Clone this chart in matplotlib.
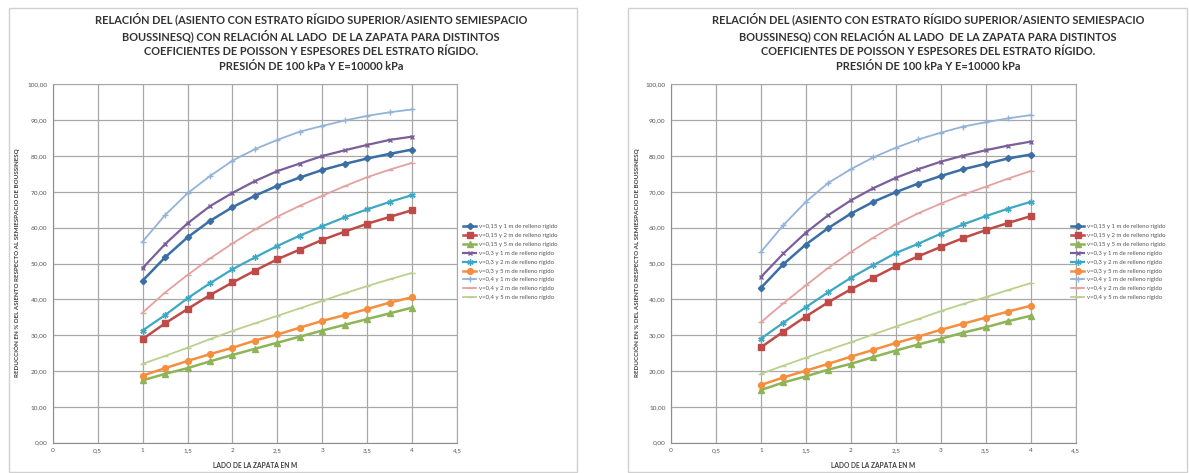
import matplotlib
matplotlib.use("Agg")
from matplotlib import pyplot as plt
from matplotlib.patches import Rectangle

plt.rcParams['font.family'] = ['Lato', 'DejaVu Sans']

# lado de la zapata (m)
x_lado = [1, 1.25, 1.5, 1.75, 2, 2.25, 2.5, 2.75, 3, 3.25, 3.5, 3.75, 4]

# grafico izquierdo
izq_015_1 = [45.2, 51.7, 57.3, 61.9, 65.7, 68.9, 71.7, 74.0, 76.1, 77.8, 79.3, 80.6, 81.8]
izq_015_2 = [28.9, 33.3, 37.3, 41.2, 44.7, 48.0, 51.2, 53.9, 56.6, 58.9, 61.1, 63.0, 64.9]
izq_015_5 = [17.4, 19.2, 20.8, 22.7, 24.5, 26.2, 27.9, 29.6, 31.3, 32.9, 34.5, 36.1, 37.7]
izq_03_1 = [48.7, 55.4, 61.2, 66.0, 69.7, 73.0, 75.8, 77.9, 80.0, 81.6, 83.1, 84.5, 85.4]
izq_03_2 = [31.3, 35.6, 40.3, 44.5, 48.4, 51.7, 54.9, 57.8, 60.4, 62.9, 65.1, 67.2, 69.1]
izq_03_5 = [18.7, 20.8, 22.8, 24.7, 26.5, 28.5, 30.2, 32.1, 34.0, 35.6, 37.3, 39.1, 40.6]
izq_04_1 = [56.1, 63.5, 69.6, 74.4, 78.7, 81.9, 84.5, 86.8, 88.4, 89.9, 91.2, 92.2, 93.0]
izq_04_2 = [36.3, 41.9, 46.8, 51.4, 55.6, 59.5, 63.1, 66.1, 68.9, 71.6, 74.1, 76.2, 78.1]
izq_04_5 = [22.0, 24.2, 26.5, 28.9, 31.2, 33.3, 35.4, 37.5, 39.6, 41.7, 43.7, 45.6, 47.4]

# grafico derecho
der_015_1 = [43.2, 49.8, 55.3, 59.9, 63.9, 67.2, 69.9, 72.3, 74.4, 76.3, 77.8, 79.3, 80.4]
der_015_2 = [26.6, 31.0, 35.2, 39.2, 42.8, 46.0, 49.2, 52.0, 54.6, 57.1, 59.3, 61.3, 63.2]
der_015_5 = [14.7, 16.8, 18.5, 20.4, 22.0, 23.9, 25.7, 27.4, 29.0, 30.7, 32.2, 33.9, 35.4]
der_03_1 = [46.2, 52.8, 58.6, 63.5, 67.6, 71.0, 73.9, 76.3, 78.4, 80.1, 81.6, 82.9, 84.0]
der_03_2 = [29.0, 33.5, 37.8, 42.0, 46.0, 49.5, 52.9, 55.5, 58.3, 60.9, 63.2, 65.3, 67.2]
der_03_5 = [16.1, 18.2, 20.1, 22.0, 24.0, 25.9, 27.8, 29.6, 31.5, 33.2, 34.9, 36.6, 38.2]
der_04_1 = [53.2, 60.7, 67.2, 72.5, 76.3, 79.6, 82.3, 84.6, 86.5, 88.2, 89.4, 90.5, 91.4]
der_04_2 = [33.6, 38.9, 43.9, 48.8, 53.2, 57.2, 60.9, 64.0, 66.7, 69.2, 71.4, 73.7, 75.8]
der_04_5 = [19.2, 21.5, 23.7, 25.9, 28.0, 30.2, 32.4, 34.5, 36.7, 38.7, 40.6, 42.6, 44.5]

etiquetas = [
    'ν=0,15 y 1 m de relleno rígido',
    'ν=0,15 y 2 m de relleno rígido',
    'ν=0,15 y 5 m de relleno rígido',
    'ν=0,3 y 1 m de relleno rígido',
    'ν=0,3 y 2 m de relleno rígido',
    'ν=0,3 y 5 m de relleno rígido',
    'ν=0,4 y 1 m de relleno rígido',
    'ν=0,4 y 2 m de relleno rígido',
    'ν=0,4 y 5 m de relleno rígido',
]

x_ticks = [0, 0.5, 1, 1.5, 2, 2.5, 3, 3.5, 4, 4.5]
x_ticklabels = ['0', '0,5', '1', '1,5', '2', '2,5', '3', '3,5', '4', '4,5']
y_ticks = [0, 10, 20, 30, 40, 50, 60, 70, 80, 90, 100]
y_ticklabels = ['0,00', '10,00', '20,00', '30,00', '40,00', '50,00',
                '60,00', '70,00', '80,00', '90,00', '100,00']

titulo = ('RELACIÓN DEL (ASIENTO CON ESTRATO RÍGIDO SUPERIOR/ASIENTO SEMIESPACIO\n'
          'BOUSSINESQ) CON RELACIÓN AL LADO  DE LA ZAPATA PARA DISTINTOS\n'
          'COEFICIENTES DE POISSON Y ESPESORES DEL ESTRATO RÍGIDO.\n'
          'PRESIÓN DE 100 kPa Y E=10000 kPa')

# estilo de cada serie: color, marcador, tamano, grosor
estilos = [
    ('#3A6EA5', 'D', 3.2, 1.8),
    ('#BE4B48', 's', 4.5, 1.8),
    ('#8DB456', '^', 4.0, 1.8),
    ('#7A5F9A', 'x', 3.5, 1.6),
    ('#3DA8C3', (6, 2, 0), 4.5, 1.6),
    ('#F58F3E', 'o', 4.2, 1.8),
    ('#93B3D8', '+', 4.5, 1.3),
    ('#E3A19F', '_', 4.0, 1.3),
    ('#BCD08E', '_', 4.0, 1.3),
]

W, H = 1189, 473
fig = plt.figure(figsize=(W / 100, H / 100), dpi=100)


def px(x, y):
    return x / W, 1 - y / H


def dibujar(series, ax_left, marco, titulo_x, ylab_x, leg_x):
    # marco del grafico
    fig.patches.append(Rectangle(px(marco[0], marco[3]), (marco[2] - marco[0]) / W,
                                 (marco[3] - marco[1]) / H, transform=fig.transFigure,
                                 fill=False, edgecolor='#D0D0D0', linewidth=1))
    x0, y0 = px(ax_left, 442.7)
    ax = fig.add_axes([x0, y0, 404.5 / W, (442.7 - 84.3) / H])
    for serie, etq, est in zip(series, etiquetas, estilos):
        color, mk, ms, lw = est
        ax.plot(x_lado, serie, color=color, marker=mk, markersize=ms, linewidth=lw,
                markeredgewidth=1.0, label=etq)
    ax.set_xlim(0, 4.5)
    ax.set_ylim(0, 100)
    ax.set_xticks(x_ticks)
    ax.set_xticklabels(x_ticklabels)
    ax.set_yticks(y_ticks)
    ax.set_yticklabels(y_ticklabels)
    ax.grid(True, color='#A8A8A8', linewidth=0.9)
    ax.set_axisbelow(True)
    ax.tick_params(length=0, labelsize=4.6, labelcolor='#555555', pad=4)
    for s in ['left', 'bottom']:
        ax.spines[s].set_color('#8C8C8C')
    for s in ['top', 'right']:
        ax.spines[s].set_color('#A8A8A8')
    ax.set_xlabel('LADO DE LA ZAPATA EN M', fontsize=4.8, fontweight='bold',
                  color='#404040', labelpad=6)
    fig.text(ylab_x / W, 1 - 263 / H,
             'REDUCCIÓN EN % DEL ASIENTO RESPECTO AL SEMIESPACIO DE BOUSSINESQ',
             rotation=90, ha='center', va='center', fontsize=4.5,
             fontweight='bold', color='#404040')
    fig.text(titulo_x / W, 1 - 12.5 / H, titulo, ha='center', va='top', fontsize=7.9,
             fontweight='bold', color='#333333', linespacing=1.4)
    ax.legend(loc='upper left', bbox_to_anchor=px(leg_x, 224), bbox_transform=fig.transFigure,
              frameon=False, fontsize=4.3, handlelength=2.2, handletextpad=0.4,
              labelspacing=0.62, borderpad=0, borderaxespad=0, labelcolor='#555555')
    return ax


dibujar([izq_015_1, izq_015_2, izq_015_5, izq_03_1, izq_03_2, izq_03_5,
         izq_04_1, izq_04_2, izq_04_5],
        52.7, (9, 8, 577, 472), 311, 17, 463)
dibujar([der_015_1, der_015_2, der_015_5, der_03_1, der_03_2, der_03_5,
         der_04_1, der_04_2, der_04_5],
        671, (628, 8, 1187, 472), 928, 637, 1071)

fig.savefig('out.png', dpi=100)
